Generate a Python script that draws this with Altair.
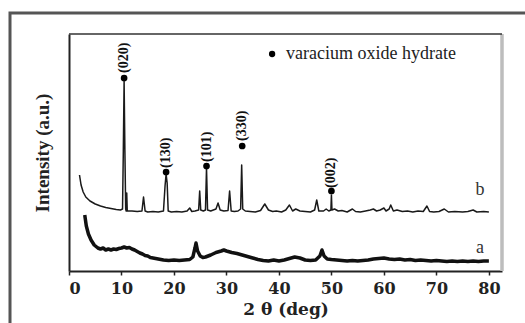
import altair as alt
import pandas as pd

# ---- curve b (upper pattern) ----
two_theta_b = [2.0, 2.3, 2.7, 3.2, 4.0, 5.0, 6.0, 7.0, 8.0, 9.0, 9.8, 10.2, 10.35, 10.5, 10.65, 10.8,
               10.9, 11.0, 11.1, 12.0, 13.0, 13.9, 14.2, 14.5, 15.0, 16.0, 17.0, 18.0, 18.3, 18.5, 18.7,
               18.9, 19.5, 20.5, 21.5, 22.5, 23.0, 23.4, 24.0, 24.7, 24.9, 25.1, 25.6, 26.0, 26.2, 26.4,
               27.0, 28.0, 28.4, 28.8, 29.5, 30.3, 30.6, 30.9, 31.5, 32.2, 32.7, 32.9, 33.1, 33.6, 34.5,
               35.5, 36.5, 37.3, 38.0, 38.8, 39.5, 40.5, 41.3, 42.0, 42.6, 43.2, 44.0, 45.0, 46.0, 46.8,
               47.2, 47.6, 48.5, 49.0, 49.5, 49.9, 50.0, 50.1, 50.6, 51.3, 52.0, 53.0, 54.0, 54.6, 55.5,
               56.5, 57.4, 58.0, 58.6, 59.3, 60.0, 60.4, 61.0, 61.3, 61.8, 62.5, 63.5, 64.5, 65.5, 66.5,
               67.5, 68.2, 68.7, 69.5, 70.5, 71.5, 72.3, 73.5, 75.0, 76.0, 77.0, 77.7, 79.0, 80.0]
intensity_b = [96, 86, 79, 74, 70, 67, 65, 63.5, 62.5, 61.5, 61, 62, 120, 190, 120, 62,
               60, 78, 60, 60, 59.5, 60, 74, 60, 59, 59.5, 59, 60, 85, 97, 88,
               60, 59, 59.5, 59, 60, 63, 59.5, 60, 61, 80, 61, 60, 61, 103, 61,
               60, 62, 68, 61, 60, 60.5, 80, 60, 59.5, 60, 62, 106, 62, 60, 59.5,
               59, 60.5, 67, 61, 59.5, 60, 59, 61, 66, 60, 62, 60, 59.5, 59, 61,
               71, 60, 60, 62, 60, 61, 76, 61, 62, 60, 60.5, 59, 62, 59.5, 59,
               60, 61, 62, 60, 61, 63, 60, 62, 66, 60, 61, 59.5, 60, 59, 60,
               59.5, 65, 59.5, 59, 59.5, 62, 59, 59.5, 59, 59.5, 61, 59, 59.5, 59]

# ---- curve a (lower pattern) ----
two_theta_a = [3.0, 3.3, 3.7, 4.2, 4.8, 5.5, 6.0, 6.5, 7.0, 7.5, 8.0, 8.5, 9.0, 9.5, 10.0, 10.5,
               11.0, 11.5, 12.0, 12.5, 13.0, 13.5, 14.0, 14.5, 15.0, 15.5, 16.0, 17.0, 18.0, 19.0,
               20.0, 21.0, 22.0, 23.0, 23.6, 24.0, 24.2, 24.5, 25.0, 25.5, 26.0, 27.0, 28.0, 29.0,
               29.5, 30.0, 31.0, 32.0, 33.0, 34.0, 35.0, 36.0, 37.0, 38.0, 39.0, 40.0, 41.0, 42.0,
               43.0, 44.0, 45.0, 46.0, 47.0, 47.8, 48.2, 48.6, 49.2, 50.0, 51.0, 52.0, 53.0, 54.0,
               55.0, 56.0, 57.0, 58.0, 59.0, 60.0, 61.0, 62.0, 63.0, 64.0, 65.0, 66.0, 67.0, 68.0,
               69.0, 70.0, 71.0, 72.0, 73.0, 74.0, 75.0, 76.0, 77.0, 78.0, 79.0, 80.0]
intensity_a = [56, 45, 37, 31, 26, 23, 22, 23, 21, 22, 21, 22, 21.5, 22.5, 23, 24,
               23, 23.5, 22, 21, 19.5, 18, 17, 15.5, 15, 13.5, 13, 12, 11, 10.5,
               11, 10.5, 11, 11.5, 14, 23, 28, 20, 15, 13.5, 14, 16, 18.5, 20,
               21, 20, 18.5, 17.5, 16, 14.5, 13, 11.5, 10.5, 10, 11, 10, 11, 12.5,
               14, 13, 11, 10.5, 11, 15, 21, 15, 12, 11.5, 11, 10.5, 10, 10.5,
               10, 10.5, 11, 12, 12.5, 13, 12, 11.5, 12, 11, 11.5, 10.5, 11, 10.5,
               10, 10.5, 10, 9.5, 10, 9.5, 10, 9.5, 10, 9.5, 10, 10]

# ---- indexed peaks ----
peak_pos = [10.5, 18.5, 26.2, 33.0, 50.0]
peak_dot = [193, 99, 105, 125, 80]
peak_label_base = [198, 103, 109, 130, 83]
peak_labels = ["(020)", "(130)", "(101)", "(330)", "(002)"]

# ---- legend & curve tags ----
legend_x = [38.7]
legend_y = [217]
legend_text = ["varacium oxide hydrate"]
tag_x = [78.3, 78.3]
tag_y = [81, 23]
tag_text = ["b", "a"]

W, H = 433, 237

df_b = pd.DataFrame({"t": two_theta_b, "I": intensity_b})
df_a = pd.DataFrame({"t": two_theta_a, "I": intensity_a})
df_pk = pd.DataFrame({"t": peak_pos, "I": peak_dot, "Ilab": peak_label_base, "lab": peak_labels})
df_leg = pd.DataFrame({"t": legend_x, "I": legend_y, "lab": legend_text})
df_tag = pd.DataFrame({"t": tag_x, "I": tag_y, "lab": tag_text})
one = pd.DataFrame({"k": [0]})

xscale = alt.Scale(domain=[0, 82.5], nice=False, zero=False)
yscale = alt.Scale(domain=[0, 237], nice=False, zero=False)

xaxis = alt.Axis(
    title="2 θ (deg)", values=list(range(0, 85, 5)),
    labelExpr="datum.value % 10 === 0 ? datum.label : ''",
    labelFont="DejaVu Serif", labelFontWeight="bold", labelFontSize=16, labelColor="#222",
    labelPadding=5, tickColor="#222", tickWidth=1.5, tickSize=4,
    domainColor="#222", domainWidth=2, grid=False,
    titleFont="DejaVu Serif", titleFontWeight="bold", titleFontSize=17, titleColor="#222",
    titlePadding=5,
)
yaxis = alt.Axis(
    title="Intensity (a.u.)", labels=False, ticks=False, grid=False,
    domainColor="#222", domainWidth=2,
    titleFont="Liberation Serif", titleFontWeight="bold", titleFontSize=19, titleColor="#222",
    titlePadding=17,
)

X = alt.X("t:Q", scale=xscale, axis=xaxis)
Y = alt.Y("I:Q", scale=yscale, axis=yaxis)

outer = alt.Chart(one).mark_rect(fill=None, stroke="#555", strokeWidth=3).encode(
    x=alt.value(-59), x2=alt.value(480), y=alt.value(-21), y2=alt.value(320))
right_band = alt.Chart(one).mark_rule(color="#bdbdbd", strokeWidth=3.5).encode(
    x=alt.value(W), y=alt.value(0), y2=alt.value(H))
top_line = alt.Chart(one).mark_rule(color="#333", strokeWidth=1.5).encode(
    x=alt.value(0), x2=alt.value(W), y=alt.value(0))

line_b = alt.Chart(df_b).mark_line(color="#1a1a1a", strokeWidth=1.5, strokeJoin="round").encode(
    x=X, y=Y, order="t:Q")
line_a = alt.Chart(df_a).mark_line(color="#111", strokeWidth=3.5, strokeJoin="round").encode(
    x="t:Q", y="I:Q", order="t:Q")

dots = alt.Chart(df_pk).mark_circle(color="#000", size=45, opacity=1).encode(x="t:Q", y="I:Q")
labels = alt.Chart(df_pk).mark_text(
    angle=270, align="left", baseline="middle", font="Liberation Serif",
    fontWeight="bold", fontSize=14, color="#111").encode(
    x="t:Q", y=alt.Y("Ilab:Q"), text="lab:N")

leg_dot = alt.Chart(df_leg).mark_circle(color="#000", size=40, opacity=1).encode(x="t:Q", y="I:Q")
leg_text = alt.Chart(df_leg).mark_text(
    align="left", baseline="middle", font="Liberation Serif", fontSize=18, color="#222", dx=14).encode(
    x="t:Q", y="I:Q", text="lab:N")
tags = alt.Chart(df_tag).mark_text(
    align="center", baseline="middle", font="Liberation Serif", fontSize=18, color="#333").encode(
    x="t:Q", y="I:Q", text="lab:N")

chart = alt.layer(
    outer, line_a, line_b, right_band, top_line, dots, labels, leg_dot, leg_text, tags
).properties(
    width=W, height=H,
    autosize=alt.AutoSizeParams(type="none"),
    padding={"left": 69, "top": 34, "right": 23, "bottom": 52},
    background="white",
).configure_view(stroke=None)

chart.save("out.html", embed_options={"renderer": "svg", "actions": False})
